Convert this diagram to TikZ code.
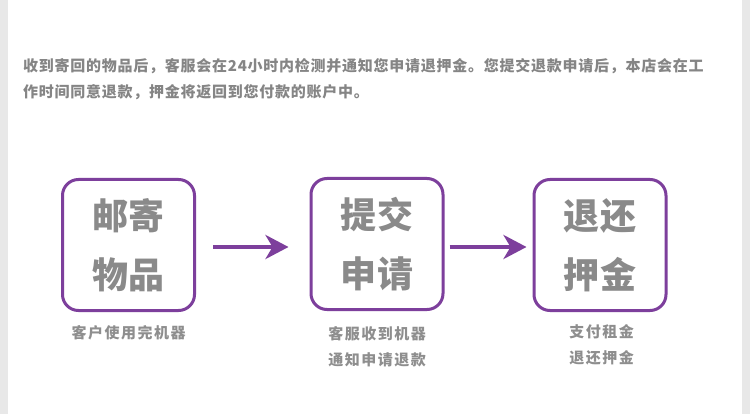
\documentclass[tikz,border=0pt]{standalone}
\usepackage{fontspec}
\usetikzlibrary{arrows.meta}
\newfontfamily\cjkspA{Noto Sans CJK SC Black}[LetterSpace=5]
\newfontfamily\cjkspB{Noto Sans CJK SC Black}[LetterSpace=10]
\newfontfamily\cjkspT{Noto Sans CJK SC Black}[LetterSpace=2]
\definecolor{framegray}{HTML}{E8E8E8}
\definecolor{toptext}{HTML}{858585}
\definecolor{titlegray}{HTML}{8A8A8A}
\definecolor{labelgray}{HTML}{8E8E8E}
\definecolor{boxpurple}{HTML}{7D3F9C}
\tikzset{
  stagebox/.style={draw=boxpurple, line width=3pt, rounded corners=16pt,
    minimum width=132pt, minimum height=131pt, inner sep=0pt,
    align=center, text=titlegray, font=\cjkspT\fontsize{36}{59}\selectfont},
  caption/.style={text=labelgray, align=center, inner sep=0pt,
    font=\cjkspB\fontsize{15}{26}\selectfont},
  toptxt/.style={text=toptext, anchor=west, inner sep=0pt,
    font=\cjkspA\fontsize{15}{16}\selectfont},
  flow/.style={draw=boxpurple, line width=4pt,
    -{Stealth[length=23pt, width=24pt, inset=7pt]}},
}
\begin{document}
\begin{tikzpicture}[x=1pt,y=-1pt]
  \useasboundingbox (0,0) rectangle (750,414);
  \fill[white] (0,0) rectangle (750,414);
  \fill[framegray] (0,0) rectangle (8,414);
  \fill[framegray] (742,0) rectangle (750,414);

  \node[toptxt] (l1) at (23,66) {收到寄回的物品后，客服会在24小时内检测并通知您申请退押金。您提交退款申请后，本店会在工};
  \node[toptxt] (l2) at (23,92) {作时间同意退款，押金将返回到您付款的账户中。};

  \node[stagebox] (b1) at (128.5,245) {邮寄\\物品};
  \node[stagebox] (b2) at (377,244) {提交\\申请};
  \node[stagebox] (b3) at (600,245) {退还\\押金};

  \draw[flow, shorten <=17pt, shorten >=21pt] ([yshift=-2pt]b1.east) -- ([yshift=-2pt]b1.east -| b2.west);
  \draw[flow, shorten <=5pt, shorten >=6pt] ([yshift=-3pt]b2.east) -- ([yshift=-3pt]b2.east -| b3.west);

  \node[caption] (c1) at (128.5,333) {客户使用完机器};
  \node[caption] (c2) at (377,346.5) {客服收到机器\\通知申请退款};
  \node[caption] (c3) at (601.5,344.5) {支付租金\\退还押金};
\end{tikzpicture}
\end{document}
